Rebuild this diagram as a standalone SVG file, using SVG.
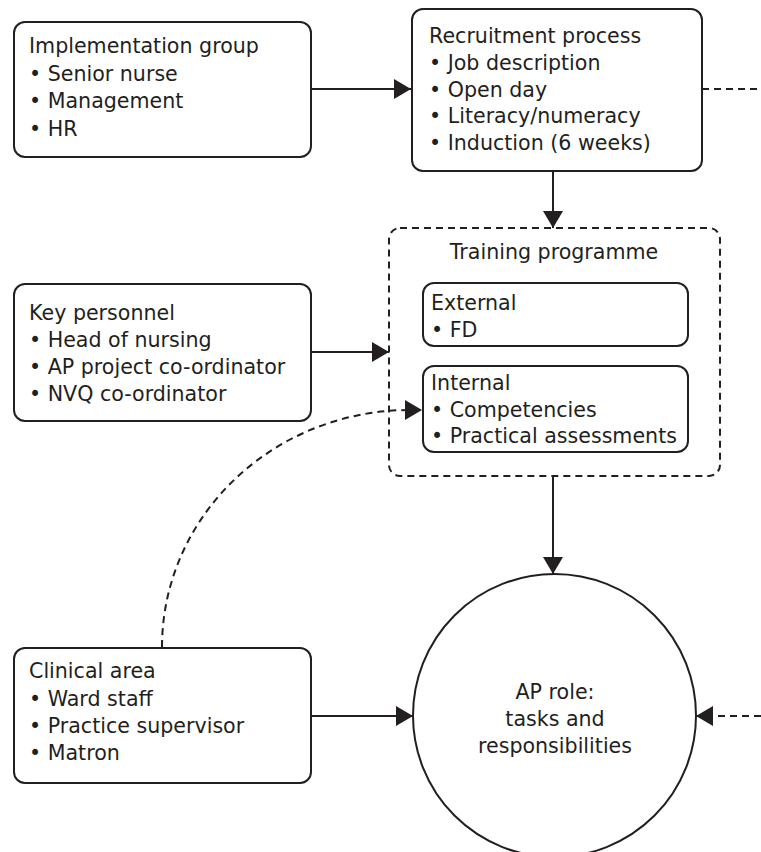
<svg xmlns="http://www.w3.org/2000/svg" width="761" height="852" viewBox="0 0 761 852">
  <style>
    .box { fill: #ffffff; stroke: #231f20; stroke-width: 2; }
    .dbox { fill: none; stroke: #231f20; stroke-width: 2; stroke-dasharray: 7 5; }
    .ln { fill: none; stroke: #231f20; stroke-width: 2; }
    .dash { fill: none; stroke: #231f20; stroke-width: 2; stroke-dasharray: 7 5; }
    text { font-family: "DejaVu Sans", "Open Sans", sans-serif; font-size: 20.6px; fill: #231f20; }
    .mid { text-anchor: middle; }
  </style>
  <defs>
    <marker id="arrow" markerWidth="18" markerHeight="20" refX="17" refY="10" orient="auto" markerUnits="userSpaceOnUse">
      <polygon points="0,0 17,10 0,20" fill="#231f20"/>
    </marker>
  </defs>

  <!-- connectors -->
  <g id="connectors">
    <line class="ln" x1="311" y1="89" x2="411" y2="89" marker-end="url(#arrow)"/>
    <line class="dash" x1="702" y1="89" x2="761" y2="89"/>
    <line class="ln" x1="553" y1="171" x2="553" y2="228" marker-end="url(#arrow)"/>
    <line class="ln" x1="311" y1="352" x2="389" y2="352" marker-end="url(#arrow)"/>
    <path class="dash" d="M162,647 A248,237 0 0 1 410,410 L422,410" marker-end="url(#arrow)"/>
    <line class="ln" x1="553" y1="476" x2="553" y2="574" marker-end="url(#arrow)"/>
    <line class="ln" x1="311" y1="716" x2="413" y2="716" marker-end="url(#arrow)"/>
    <line class="dash" x1="761" y1="716" x2="696" y2="716" marker-end="url(#arrow)"/>
  </g>

  <g id="implementation-group">
    <rect class="box" x="14" y="22" width="297" height="135" rx="11"/>
    <text x="29" y="53">Implementation group</text>
    <text x="29" y="81">• Senior nurse</text>
    <text x="29" y="108">• Management</text>
    <text x="29" y="136">• HR</text>
  </g>

  <g id="recruitment-process">
    <rect class="box" x="412" y="9" width="290" height="162" rx="11"/>
    <text x="429" y="43">Recruitment process</text>
    <text x="429" y="70">• Job description</text>
    <text x="429" y="97">• Open day</text>
    <text x="429" y="123">• Literacy/numeracy</text>
    <text x="429" y="150">• Induction (6 weeks)</text>
  </g>

  <g id="training-programme">
    <rect class="dbox" x="389" y="228" width="331" height="248" rx="11"/>
    <text class="mid" x="554" y="259">Training programme</text>
  </g>

  <g id="external">
    <rect class="box" x="423" y="283" width="265" height="63" rx="11"/>
    <text x="431" y="310">External</text>
    <text x="431" y="337">• FD</text>
  </g>

  <g id="internal">
    <rect class="box" x="423" y="366" width="265" height="86" rx="11"/>
    <text x="431" y="390">Internal</text>
    <text x="431" y="417">• Competencies</text>
    <text x="431" y="443">• Practical assessments</text>
  </g>

  <g id="key-personnel">
    <rect class="box" x="14" y="284" width="297" height="137" rx="11"/>
    <text x="29" y="320">Key personnel</text>
    <text x="29" y="347">• Head of nursing</text>
    <text x="29" y="374">• AP project co-ordinator</text>
    <text x="29" y="401">• NVQ co-ordinator</text>
  </g>

  <g id="clinical-area">
    <rect class="box" x="14" y="648" width="297" height="135" rx="11"/>
    <text x="29" y="678">Clinical area</text>
    <text x="29" y="706">• Ward staff</text>
    <text x="29" y="733">• Practice supervisor</text>
    <text x="29" y="760">• Matron</text>
  </g>

  <g id="ap-role">
    <circle class="box" cx="554.5" cy="715.5" r="141.5"/>
    <text class="mid" x="555" y="699">AP role:</text>
    <text class="mid" x="555" y="726">tasks and</text>
    <text class="mid" x="555" y="753">responsibilities</text>
  </g>
</svg>
